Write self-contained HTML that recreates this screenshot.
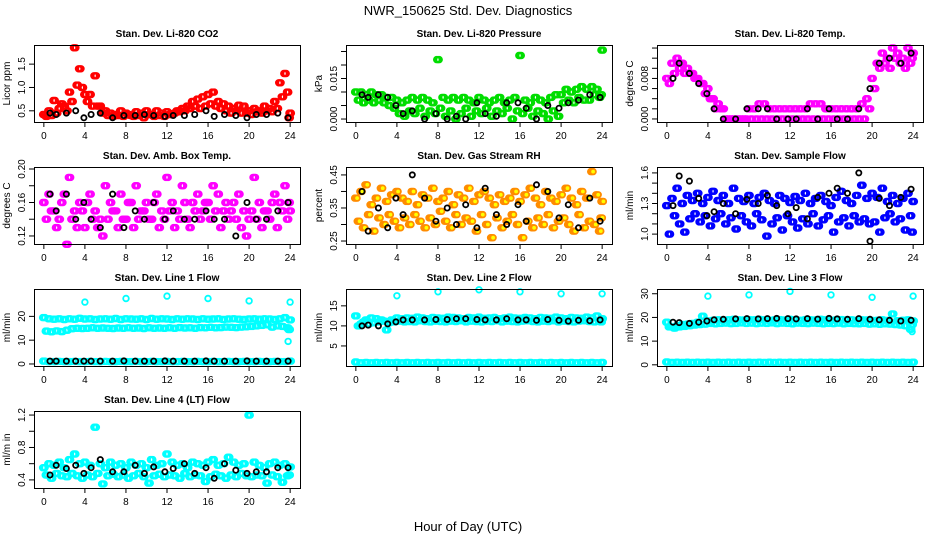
<!DOCTYPE html>
<html><head><meta charset="utf-8"><style>
html,body{margin:0;padding:0;background:#fff;}
svg text{font-family:"Liberation Sans",sans-serif;}
</style></head><body>
<svg id="chart" width="936" height="540" viewBox="0 0 936 540" xmlns="http://www.w3.org/2000/svg">
<rect width="936" height="540" fill="#fff"/>
<text x="468" y="15" text-anchor="middle" font-size="13">NWR_150625  Std. Dev. Diagnostics</text>
<text x="468" y="531" text-anchor="middle" font-size="13">Hour of Day (UTC)</text>
</svg>
<script>
const hours=[0,0.5,1,1.5,2,2.5,3,3.5,4,4.5,5,5.5,6,6.5,7,7.5,8,8.5,9,9.5,10,10.5,11,11.5,12,12.5,13,13.5,14,14.5,15,15.5,16,16.5,17,17.5,18,18.5,19,19.5,20,20.5,21,21.5,22,22.5,23,23.5,24];
const hoursB=[0.25,0.75,1.25,1.75,2.25,2.75,3.25,3.75,4.25,4.75,5.25,5.75,6.25,6.75,7.25,7.75,8.25,8.75,9.25,9.75,10.25,10.75,11.25,11.75,12.25,12.75,13.25,13.75,14.25,14.75,15.25,15.75,16.25,16.75,17.25,17.75,18.25,18.75,19.25,19.75,20.25,20.75,21.25,21.75,22.25,22.75,23.25,23.75,23.9];
const blackHours=[0.6,1.2,2.2,3.1,3.9,4.6,5.5,6.7,7.8,8.9,9.8,10.7,11.8,12.6,13.7,14.7,15.8,16.6,17.6,18.7,19.8,20.7,21.7,22.8,23.8];
const xTicks=[0,4,8,12,16,20,24];

const co2A=[0.42,0.5,0.72,0.55,0.6,0.9,1.85,1.4,0.85,0.85,1.25,0.6,0.5,0.45,0.42,0.5,0.45,0.4,0.48,0.45,0.5,0.42,0.5,0.45,0.48,0.42,0.5,0.55,0.6,0.7,0.75,0.8,0.85,0.9,0.7,0.65,0.6,0.55,0.62,0.6,0.5,0.55,0.5,0.6,0.55,0.7,1.1,1.3,0.45];
const co2B=[0.38,0.4,0.45,0.65,0.5,0.7,1.05,1.0,0.7,0.6,0.6,0.45,0.4,0.38,0.4,0.38,0.42,0.38,0.4,0.35,0.42,0.38,0.4,0.38,0.42,0.45,0.48,0.5,0.55,0.6,0.55,0.6,0.65,0.6,0.55,0.5,0.45,0.5,0.45,0.45,0.42,0.48,0.45,0.5,0.48,0.55,0.8,0.9,0.35];
const co2K=[0.45,0.42,0.45,0.5,0.35,0.42,0.45,0.35,0.4,0.4,0.42,0.4,0.38,0.4,0.4,0.42,0.5,0.38,0.42,0.4,0.35,0.42,0.42,0.45,0.35];

const presA=[0.010,0.010,0.009,0.010,0.009,0.009,0.008,0.008,0.007,0.006,0.007,0.008,0.007,0.008,0.007,0.006,0.022,0.008,0.007,0.008,0.007,0.008,0.007,0.006,0.008,0.007,0.006,0.007,0.008,0.006,0.007,0.008,0.0235,0.007,0.006,0.008,0.007,0.006,0.008,0.009,0.009,0.011,0.010,0.011,0.012,0.011,0.012,0.011,0.0255];
const presB=[0.007,0.006,0.007,0.006,0.007,0.006,0.005,0.004,0.002,0.001,0.003,0.002,0.004,0.001,0.003,0.002,0.004,0.001,0.003,0.000,0.002,0.004,0.001,0.003,0.002,0.004,0.001,0.003,0.002,0.004,0.000,0.003,0.002,0.004,0.001,0.003,0.002,0.000,0.003,0.001,0.006,0.007,0.006,0.008,0.007,0.007,0.009,0.008,0.009];
const presK=[0.009,0.008,0.009,0.008,0.005,0.002,0.003,0.000,0.002,0.000,0.001,0.000,0.006,0.002,0.001,0.006,0.006,0.004,0.000,0.005,0.004,0.006,0.007,0.009,0.008];

const tempA=[0.008,0.011,0.012,0.011,0.010,0.009,0.008,0.007,0.006,0.004,0.003,0.002,0.000,0.000,0.000,0.000,0.002,0.002,0.003,0.003,0.002,0.002,0.002,0.002,0.002,0.002,0.002,0.002,0.003,0.003,0.003,0.002,0.002,0.002,0.002,0.002,0.002,0.002,0.003,0.004,0.008,0.011,0.013,0.012,0.014,0.013,0.012,0.014,0.013];
const tempB=[0.007,0.009,0.010,0.009,0.009,0.008,0.007,0.005,0.004,0.002,0.002,0.000,0.000,0.000,0.000,0.000,0.000,0.000,0.000,0.000,0.000,0.000,0.000,0.000,0.000,0.000,0.000,0.000,0.000,0.000,0.000,0.000,0.000,0.000,0.000,0.000,0.000,0.000,0.000,0.002,0.006,0.010,0.011,0.010,0.012,0.011,0.010,0.011,0.012];
const tempK=[0.008,0.011,0.009,0.007,0.005,0.002,0.000,0.000,0.002,0.002,0.002,0.000,0.000,0.000,0.002,0.000,0.002,0.000,0.000,0.002,0.006,0.011,0.012,0.011,0.013];

const ambA=[0.16,0.17,0.15,0.14,0.17,0.19,0.15,0.16,0.13,0.17,0.15,0.14,0.18,0.16,0.15,0.17,0.14,0.16,0.18,0.15,0.16,0.14,0.17,0.15,0.19,0.16,0.15,0.18,0.14,0.16,0.17,0.15,0.16,0.18,0.17,0.15,0.14,0.16,0.17,0.15,0.14,0.19,0.16,0.15,0.14,0.17,0.16,0.18,0.15];
const ambB=[0.14,0.15,0.13,0.16,0.11,0.14,0.13,0.15,0.16,0.14,0.13,0.12,0.14,0.15,0.13,0.14,0.16,0.13,0.14,0.15,0.14,0.16,0.13,0.14,0.15,0.13,0.14,0.16,0.13,0.15,0.14,0.16,0.14,0.15,0.13,0.16,0.15,0.14,0.13,0.12,0.15,0.14,0.13,0.15,0.16,0.13,0.15,0.14,0.16];
const ambK=[0.17,0.15,0.17,0.14,0.16,0.14,0.13,0.17,0.13,0.15,0.14,0.16,0.14,0.15,0.14,0.14,0.15,0.14,0.14,0.12,0.16,0.14,0.14,0.15,0.16];

const rhA=[0.38,0.40,0.42,0.36,0.38,0.41,0.37,0.39,0.40,0.38,0.37,0.40,0.36,0.39,0.38,0.41,0.37,0.38,0.40,0.36,0.39,0.38,0.41,0.37,0.39,0.40,0.38,0.36,0.39,0.37,0.38,0.40,0.37,0.39,0.41,0.38,0.36,0.40,0.38,0.37,0.39,0.41,0.38,0.36,0.40,0.38,0.46,0.39,0.37];
const rhB=[0.31,0.29,0.33,0.28,0.32,0.30,0.33,0.31,0.29,0.32,0.30,0.33,0.31,0.29,0.32,0.30,0.34,0.31,0.29,0.33,0.30,0.32,0.31,0.28,0.33,0.30,0.26,0.32,0.29,0.31,0.33,0.30,0.26,0.31,0.29,0.32,0.30,0.33,0.29,0.31,0.32,0.30,0.28,0.33,0.29,0.31,0.30,0.28,0.32];
const rhK=[0.40,0.28,0.35,0.29,0.38,0.33,0.45,0.38,0.31,0.35,0.30,0.36,0.29,0.41,0.33,0.30,0.36,0.31,0.42,0.40,0.32,0.36,0.29,0.38,0.31];

const sfA=[1.28,1.35,1.45,1.30,1.38,1.33,1.40,1.30,1.36,1.42,1.33,1.38,1.30,1.45,1.35,1.32,1.38,1.30,1.36,1.40,1.33,1.30,1.38,1.35,1.31,1.37,1.33,1.40,1.30,1.35,1.38,1.32,1.28,1.36,1.42,1.33,1.30,1.38,1.48,1.35,1.40,1.36,1.45,1.32,1.38,1.30,1.35,1.40,1.32];
const sfB=[1.00,1.18,1.10,1.02,1.15,1.20,1.12,1.18,1.08,1.15,1.20,1.10,1.16,1.05,1.18,1.12,1.08,1.20,1.14,0.98,1.10,1.16,1.04,1.18,1.12,1.06,1.15,1.10,1.20,1.08,1.14,1.18,1.02,1.12,1.16,1.08,1.18,1.12,1.15,1.10,1.12,1.02,1.16,1.20,1.12,1.15,1.04,1.18,1.02];
const sfK=[1.28,1.57,1.52,1.35,1.18,1.22,1.30,1.20,1.34,1.30,1.38,1.28,1.20,1.26,1.15,1.36,1.40,1.45,1.40,1.60,0.93,1.35,1.28,1.36,1.44];

const l1A=[19.5,19,18.8,19,18.7,19,18.8,19.2,18.9,19,18.7,18.9,19,18.8,19.1,18.7,19,18.9,18.8,19,18.7,19.1,18.8,19,18.9,18.7,19,18.8,19,18.9,18.7,19,18.8,18.9,19,18.7,18.9,19,18.8,18.7,18.9,19,18.8,19,18.9,18.7,19,19.5,18.5];
const l1B=[13.8,13.5,13.9,13.6,14.2,14.8,15,14.9,15,15.2,15,15.1,15,14.9,15.1,15,15.2,15,15.1,14.9,15.2,15,15.1,15,15.2,15,15.3,15.1,15.2,15,15.3,15.2,15.4,15.2,15.3,15.5,15.4,15.3,15.5,15.6,15.8,16,16.2,16.5,15.5,16,15.8,15.2,14.5];
const l1Low=[1.2,1,1,1.1,1,1,1.1,1,1,1.1,1,1,1.1,1,1,1.1,1,1,1.1,1,1,1.1,1,1,1.1,1,1,1.1,1,1,1.1,1,1,1.1,1,1,1.1,1,1,1.1,1,1,1.1,1,1,1.1,1,1,1.2];
const l1OutH=[4,8,12,16,20,24,23.8];
const l1OutV=[26,27.5,28.5,27.5,26.5,26,9.5];
const l1K=[1.2,1.2,1.2,1.2,1.2,1.2,1.2,1.2,1.3,1.2,1.2,1.2,1.3,1.2,1.2,1.2,1.3,1.2,1.2,1.2,1.3,1.2,1.2,1.2,1.2];

const l2A=[12.5,10.5,11.5,12,11.8,11.5,9,11.5,12,11.8,12,11.9,12.2,12,11.8,12.1,12,11.9,12.2,12.1,12,11.8,12.1,12,12.2,11.9,12,12.1,11.8,12,12.2,12,11.9,12.1,12,11.8,12.1,12,11.9,12.2,12,11.8,12.1,12,11.9,12.2,12,12.5,11.8];
const l2B=[10,11,10.5,10.8,11,11.2,10.8,11,11.2,11,11.1,11,11.3,11.1,11,11.2,11.1,11,11.2,11.1,11.3,11,11.2,11.1,11,11.2,11.1,11.3,11,11.2,11.1,11,11.2,11.3,11.1,11,11.2,11.1,11.3,11,11.2,11.1,11,11.2,11.3,11.1,11,11.2,11];
const l2Low=[1,0.8,0.9,0.8,0.9,0.8,0.9,0.8,0.9,0.8,0.9,0.8,0.9,0.8,0.9,0.8,0.9,0.8,0.9,0.8,0.9,0.8,0.9,0.8,0.9,0.8,0.9,0.8,0.9,0.8,0.9,0.8,0.9,0.8,0.9,0.8,0.9,0.8,0.9,0.8,0.9,0.8,0.9,0.8,0.9,0.8,0.9,0.8,0.9];
const l2OutH=[4,8,12,16,20,24];
const l2OutV=[17.5,18.5,19,18.5,18,18];
const l2K=[10,10.2,10,10.5,11,11.5,11.5,11.5,11.6,11.6,11.8,11.8,11.6,11.5,11.5,11.8,11.5,11.5,11.4,11.6,11.4,11.2,11.4,11.3,11.5];

const l3A=[18,16,16.5,17,17.2,17.5,18,20.5,18.5,18.8,19,18.8,19,19.2,19,18.9,19.1,19,19.2,19,18.8,19,19.1,18.9,19.2,19,18.8,19.1,19,18.9,19.2,19,18.8,19,19.1,18.9,19,18.8,19,18.9,18.7,18.8,19,18.7,21.5,18.6,18.8,19,18.5];
const l3B=[16,15.5,16,16.2,16.5,16.8,17,17.2,17.5,17.3,17.5,17.6,17.4,17.5,17.7,17.5,17.6,17.4,17.6,17.5,17.7,17.4,17.6,17.5,17.3,17.6,17.5,17.4,17.6,17.5,17.3,17.5,17.4,17.6,17.3,17.5,17.4,17.3,17.5,17.2,17.3,17.1,17.3,17.2,17,16.8,16.5,15,17];
const l3Low=[1.2,1,1.1,1,1.1,1,1.1,1,1.1,1,1.1,1,1.1,1,1.1,1,1.1,1,1.1,1,1.1,1,1.1,1,1.1,1,1.1,1,1.1,1,1.1,1,1.1,1,1.1,1,1.1,1,1.1,1,1.1,1,1.1,1,1.1,1,1.1,1,1.1];
const l3OutH=[4,8,12,16,20,24,23.9];
const l3OutV=[29,29.5,31,29.5,28.5,29,14];
const l3K=[18,17.8,17.5,18,18.5,19,19.2,19.4,19.5,19.4,19.5,19.6,19.5,19.4,19.5,19.3,19.6,19.4,19.2,19.5,19.2,19,18.8,18.5,18.8];

const l4A=[0.55,0.6,0.58,0.62,0.55,0.65,0.72,0.6,0.62,0.58,1.05,0.6,0.55,0.62,0.58,0.6,0.55,0.62,0.58,0.6,0.55,0.65,0.58,0.6,0.72,0.62,0.58,0.6,0.55,0.62,0.6,0.58,0.62,0.65,0.58,0.6,0.68,0.62,0.58,0.6,1.2,0.62,0.58,0.55,0.6,0.62,0.58,0.6,0.56];
const l4B=[0.46,0.42,0.48,0.45,0.44,0.48,0.45,0.42,0.46,0.44,0.48,0.35,0.45,0.47,0.44,0.46,0.42,0.45,0.48,0.44,0.36,0.45,0.47,0.44,0.46,0.45,0.42,0.48,0.44,0.46,0.45,0.38,0.44,0.47,0.45,0.42,0.46,0.44,0.48,0.45,0.44,0.46,0.45,0.36,0.46,0.44,0.37,0.45,0.46];
const l4K=[0.46,0.58,0.54,0.58,0.48,0.55,0.65,0.5,0.5,0.58,0.48,0.56,0.5,0.54,0.6,0.48,0.55,0.42,0.6,0.52,0.48,0.5,0.5,0.55,0.55];

const svg=document.getElementById('chart');
const NS='http://www.w3.org/2000/svg';
function mk(tag,attrs){const e=document.createElementNS(NS,tag);for(const k in attrs)e.setAttribute(k,attrs[k]);return e;}

const panels=[
 {name:'co2',title:'Stan. Dev. Li-820 CO2',ylab:'Licor ppm',col:0,row:0,ymin:0.26,ymax:1.91,ticks:[0.5,1.0,1.5],labels:['0.5','1.0','1.5'],color:'#ff0000',series:[[hours,co2A],[hoursB,co2B]],black:co2K},
 {name:'pressure',title:'Stan. Dev. Li-820 Pressure',ylab:'kPa',col:1,row:0,ymin:-0.0011,ymax:0.0274,ticks:[0,0.005,0.01,0.015,0.02,0.025],labels:['0.000','','','0.015','',''],color:'#00dd00',series:[[hours,presA],[hoursB,presB]],black:presK},
 {name:'temp',title:'Stan. Dev. Li-820 Temp.',ylab:'degrees C',col:2,row:0,ymin:-0.0006,ymax:0.0146,ticks:[0,0.002,0.004,0.006,0.008,0.010,0.012,0.014],labels:['0.000','','','','0.008','','',''],color:'#ff00ff',series:[[hours,tempA],[hoursB,tempB]],black:tempK},
 {name:'amb-box-temp',title:'Stan. Dev. Amb. Box Temp.',ylab:'degrees C',col:0,row:1,ymin:0.1104,ymax:0.2024,ticks:[0.12,0.14,0.16,0.18,0.20],labels:['0.12','','0.16','','0.20'],color:'#ff00ff',series:[[hours,ambA],[hoursB,ambB]],black:ambK},
 {name:'gas-stream-rh',title:'Stan. Dev. Gas Stream RH',ylab:'percent',col:1,row:1,ymin:0.241,ymax:0.474,ticks:[0.25,0.30,0.35,0.40,0.45],labels:['0.25','','0.35','','0.45'],color:'#ff8c00',fill:'#ffff00',series:[[hours,rhA],[hoursB,rhB]],black:rhK},
 {name:'sample-flow',title:'Stan. Dev. Sample Flow',ylab:'ml/min',col:2,row:1,ymin:0.903,ymax:1.658,ticks:[1.0,1.1,1.2,1.3,1.4,1.5,1.6],labels:['1.0','','','1.3','','','1.6'],color:'#0000ff',series:[[hours,sfA],[hoursB,sfB]],black:sfK},
 {name:'line1-flow',title:'Stan. Dev. Line 1 Flow',ylab:'ml/min',col:0,row:2,ymin:-0.85,ymax:31.5,ticks:[0,10,20],labels:['0','10','20'],color:'#00ffff',series:[[hours,l1A],[hoursB,l1B],[hours,l1Low],[l1OutH,l1OutV]],black:l1K},
 {name:'line2-flow',title:'Stan. Dev. Line 2 Flow',ylab:'ml/min',col:1,row:2,ymin:0,ymax:19.2,ticks:[5,10,15],labels:['5','10','15'],color:'#00ffff',series:[[hours,l2A],[hoursB,l2B],[hours,l2Low],[l2OutH,l2OutV]],black:l2K},
 {name:'line3-flow',title:'Stan. Dev. Line 3 Flow',ylab:'ml/min',col:2,row:2,ymin:-0.5,ymax:32,ticks:[0,10,20,30],labels:['0','10','20','30'],color:'#00ffff',series:[[hours,l3A],[hoursB,l3B],[hours,l3Low],[l3OutH,l3OutV]],black:l3K},
 {name:'line4-flow',title:'Stan. Dev. Line 4 (LT) Flow',ylab:'ml/m in',col:0,row:3,ymin:0.30,ymax:1.25,ticks:[0.4,0.6,0.8,1.0,1.2],labels:['0.4','','0.8','','1.2'],color:'#00ffff',series:[[hours,l4A],[hoursB,l4B]],black:l4K}
];
const lefts=[34,346,657], tops=[45,167,289,411], W=266, H=77;
const smear=[-0.12,0,0.12];

panels.forEach(p=>{
 const L=lefts[p.col], T=tops[p.row], B=T+H, R=L+W;
 const xs=h=>L+W*(h+0.96)/25.92;
 const ys=v=>B-H*(v-p.ymin)/(p.ymax-p.ymin);
 const g=mk('g',{});
 
 
 svg.appendChild(g);
 const t=mk('text',{x:L+W/2,y:T-8,'text-anchor':'middle','font-size':'10','font-weight':'bold'});
 
 
 t.textContent=p.title;g.appendChild(t);
 const yl=mk('text',{x:0,y:0,'text-anchor':'middle','font-size':'10',transform:`translate(${L-24},${T+H/2}) rotate(-90)`});
 
 
 yl.textContent=p.ylab;g.appendChild(yl);
 const pts=mk('g',{fill:p.fill||'none',stroke:p.color,'stroke-width':'1.8'});
 
 
 g.appendChild(pts);
 p.series.forEach(s=>{
  const isOut=s[0].length<20;
  s[0].forEach((h,i)=>{
   const offs=isOut?[0]:smear;
   offs.forEach(o=>{
    const c=mk('circle',{cx:xs(h+o).toFixed(1),cy:ys(s[1][i]).toFixed(1),r:'2.8'});
    
    
    pts.appendChild(c);});
  });});
 const bk=mk('g',{fill:'none',stroke:'#000','stroke-width':'1.8'});
 
 
 g.appendChild(bk);
 blackHours.forEach((h,i)=>{
  const c=mk('circle',{cx:xs(h).toFixed(1),cy:ys(p.black[i]).toFixed(1),r:'2.6'});
  
  
  bk.appendChild(c);});
 const bx=mk('rect',{x:L+0.5,y:T+0.5,width:W,height:H,fill:'none',stroke:'#000','stroke-width':'1'});
 
 
 g.appendChild(bx);
 const xa=mk('g',{stroke:'#000','stroke-width':'1'});
 
 
 g.appendChild(xa);
 xa.appendChild(mk('line',{x1:xs(0),x2:xs(24),y1:B+0.5,y2:B+0.5}));
 xTicks.forEach(h=>{
  xa.appendChild(mk('line',{x1:xs(h),x2:xs(h),y1:B,y2:B+5}));
  const tx=mk('text',{x:xs(h),y:B+17,'text-anchor':'middle','font-size':'10',stroke:'none'});
  
  
  tx.textContent=h;xa.appendChild(tx);});
 const ya=mk('g',{stroke:'#000','stroke-width':'1'});
 
 
 g.appendChild(ya);
 ya.appendChild(mk('line',{x1:L+0.5,x2:L+0.5,y1:ys(p.ticks[0]),y2:ys(p.ticks[p.ticks.length-1])}));
 p.ticks.forEach((v,i)=>{
  const y=ys(v);
  ya.appendChild(mk('line',{x1:L-5,x2:L,y1:y,y2:y}));
  if(p.labels[i]){
   const tx=mk('text',{x:0,y:0,'text-anchor':'middle','font-size':'10',stroke:'none',transform:`translate(${L-9},${y}) rotate(-90)`});
   
   
   tx.textContent=p.labels[i];ya.appendChild(tx);}
 });
});
</script>
</body></html>
